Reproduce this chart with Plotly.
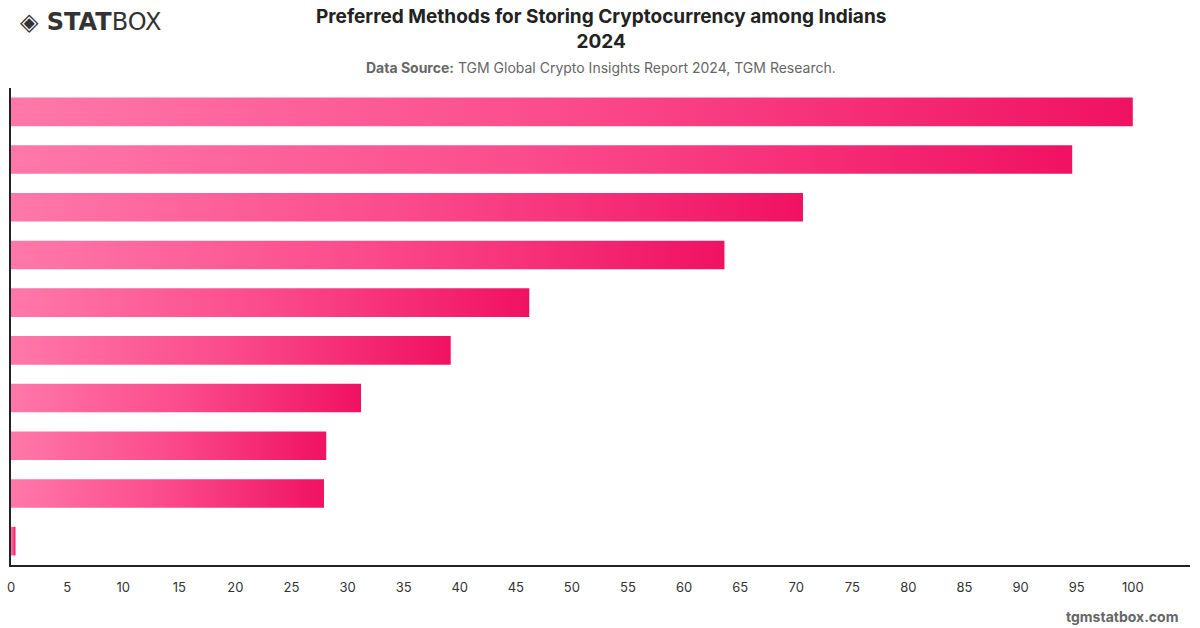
import plotly.graph_objects as go

categories = ["Method 1", "Method 2", "Method 3", "Method 4", "Method 5",
              "Method 6", "Method 7", "Method 8", "Method 9", "Method 10"]
values = [100.0, 94.6, 70.6, 63.6, 46.2, 39.2, 31.2, 28.1, 27.9, 0.4]
x_ticks = list(range(0, 101, 5))

BAR_H = 0.3  # half-height of each bar in category units

MT, MB = 88, 63
PH = 628 - MT - MB


def py(pixel_y):
    return (628 - MB - pixel_y) / PH


fig = go.Figure()
for i, (cat, v) in enumerate(zip(categories, values)):
    fig.add_trace(go.Scatter(
        x=[0, v, v, 0, 0],
        y=[i - BAR_H, i - BAR_H, i + BAR_H, i + BAR_H, i - BAR_H],
        mode="lines",
        line=dict(width=0),
        fill="toself",
        fillgradient=dict(type="horizontal",
                          colorscale=[[0, "#ff78a8"], [0.5, "#fb4a8b"], [1, "#f01262"]]),
        name=cat,
        hoverinfo="text",
        text=f"{cat}: {v}",
        showlegend=False,
    ))

fig.update_layout(
    width=1200, height=628,
    margin=dict(l=7, r=10, t=MT, b=MB),
    paper_bgcolor="white", plot_bgcolor="white",
    font=dict(family="Inter, Roboto, Arial", color="#333"),
    xaxis=dict(
        range=[0, 105.1], tickvals=x_ticks, ticktext=[str(t) for t in x_ticks],
        showgrid=False, zeroline=False, showline=True, linecolor="#222", linewidth=1.5,
        ticks="", tickfont=dict(size=13, color="#333"), ticklabelstandoff=10,
        fixedrange=True,
    ),
    yaxis=dict(
        range=[len(categories) - 0.5, -0.5], showticklabels=False,
        showgrid=False, zeroline=False, showline=True, linecolor="#222", linewidth=1.5,
        ticks="", fixedrange=True,
    ),
    annotations=[
        dict(text="<b>Preferred Methods for Storing Cryptocurrency among Indians<br>2024</b>",
             xref="paper", yref="paper", x=0.5, xanchor="center",
             y=py(29), yanchor="middle", showarrow=False,
             font=dict(size=19, color="#222", family="Inter, Roboto, Arial")),
        dict(text="<b>Data Source:</b> TGM Global Crypto Insights Report 2024, TGM Research.",
             xref="paper", yref="paper", x=0.5, xanchor="center",
             y=py(67), yanchor="middle",
             showarrow=False, font=dict(size=14, color="#666")),
        dict(text="<b>◈ STAT</b>BOX", xref="paper", yref="paper",
             x=(14 - 7) / 1183, xanchor="left",
             y=py(22), yanchor="middle",
             showarrow=False, font=dict(size=24, color="#333", family="DejaVu Sans")),
        dict(text="<b>tgmstatbox.com</b>", xref="paper", yref="paper",
             x=(1180 - 7) / 1183, xanchor="right",
             y=py(616), yanchor="middle",
             showarrow=False, font=dict(size=14, color="#666")),
    ],
)

fig.write_html("out.html")
